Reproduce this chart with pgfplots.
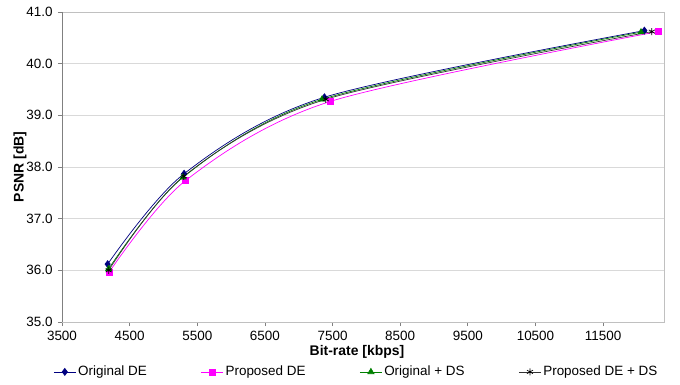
\documentclass[border=0pt]{standalone}
\usepackage{pgfplots}
\pgfplotsset{compat=1.18}
\usepackage{fontspec}
\setmainfont{Liberation Sans}
\definecolor{navyc}{HTML}{000080}
\definecolor{magc}{HTML}{FF00FF}
\definecolor{grnc}{HTML}{008000}
\definecolor{gridc}{HTML}{D9D9D9}
\definecolor{axc}{HTML}{808080}
\definecolor{boxc}{HTML}{C0C0C0}
\begin{document}
\fontsize{13}{15}\selectfont
\begin{tikzpicture}
\useasboundingbox (0,0) rectangle (680bp,385bp);
\begin{axis}[
  at={(62bp,63bp)}, anchor=south west,
  scale only axis, width=602bp, height=310bp,
  xmin=3500, xmax=12400, ymin=35, ymax=41,
  xtick={3500,4500,...,11500}, ytick={35,36,...,41},
  scaled x ticks=false, scaled y ticks=false,
  ymajorgrids, grid style={gridc, line width=0.6pt},
  axis line style={boxc, line width=0.8pt},
  tick align=outside, tick pos=left,
  major tick length=4bp,
  every tick/.style={axc, line width=0.8pt},
  /pgf/number format/assume math mode=true,
  xticklabel style={/pgf/number format/1000 sep={}, font=\fontsize{13.5}{15}\selectfont, yshift=-1bp},
  yticklabel style={/pgf/number format/fixed, /pgf/number format/fixed zerofill, /pgf/number format/precision=1, font=\fontsize{13.5}{15}\selectfont, xshift=-1bp},
  xlabel={\textbf{Bit-rate [kbps]}},
  ylabel={\textbf{PSNR [dB]}},
  label style={font=\fontsize{14}{16}\selectfont},
  xlabel style={at={(axis description cs:0.49,0)}, anchor=center, yshift=-30bp},
  ylabel style={at={(axis description cs:-0.0698,0.5)}, anchor=center},
  legend style={at={(axis description cs:0.489,-0.161)}, anchor=center, draw=none, fill=none,
    legend columns=4, font=\fontsize{13.5}{15}\selectfont,
    /tikz/every even column/.append style={column sep=52bp}},
  legend image code/.code={
    \draw[#1, mark repeat=2, mark phase=2] plot coordinates {(0bp,0bp) (11bp,0bp) (22bp,0bp)};},
  every axis plot/.append style={line width=0.7pt},
]
\addplot[navyc, smooth, mark=diamond*, mark size=3.5pt, mark options={solid, fill=navyc}] coordinates {
(4175,36.12) (5305,37.87) (7380,39.35) (12110,40.64)};
\addlegendentry{Original DE}
\addplot[magc, smooth, mark=square*, mark size=3pt, mark options={solid, fill=magc}] coordinates {
(4200,35.97) (5330,37.74) (7470,39.27) (12310,40.62)};
\addlegendentry{Proposed DE}
\addplot[grnc, smooth, mark=triangle*, mark size=3.5pt, mark options={solid, fill=grnc}] coordinates {
(4190,36.03) (5290,37.80) (7345,39.31) (12060,40.61)};
\addlegendentry{Original + DS}
\addplot[black!80, smooth, mark=asterisk, mark size=3.5pt, mark options={solid, black}] coordinates {
(4190,36.00) (5300,37.82) (7400,39.31) (12220,40.62)};
\addlegendentry{Proposed DE + DS}
\draw[axc, line width=0.8pt] (rel axis cs:0,1) -- (rel axis cs:0,0) -- (rel axis cs:1,0);
\end{axis}
\end{tikzpicture}
\end{document}
